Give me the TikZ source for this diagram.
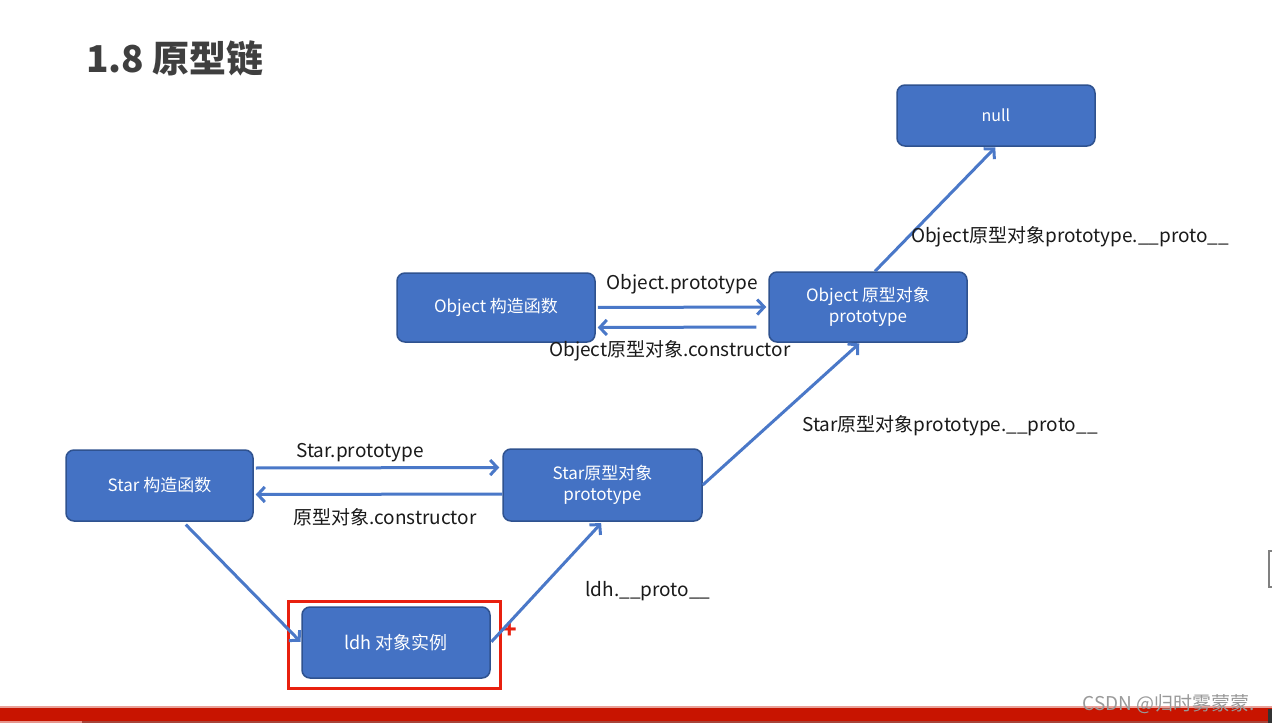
\documentclass[tikz,border=0pt]{standalone}
\usepackage{fontspec}
\setmainfont{Noto Sans CJK SC}
\usetikzlibrary{arrows.meta}
\definecolor{nodeblue}{HTML}{4472C4}
\definecolor{nodeedge}{HTML}{2F528F}
\definecolor{arrowblue}{HTML}{4A78C8}
\definecolor{titlegray}{HTML}{3F3F3F}
\definecolor{labelblack}{HTML}{1A1A1A}
\definecolor{hlred}{HTML}{E8200F}
\definecolor{barred}{HTML}{C81400}
\begin{document}
\begin{tikzpicture}[x=1pt,y=-1pt,
  box/.style={draw=nodeedge, line width=1.5pt, fill=nodeblue, rounded corners=8pt,
    text=white, font=\fontsize{17}{21}\selectfont, align=center, inner sep=0pt},
  link/.style={draw=arrowblue, line width=3pt, -{Straight Barb[length=7pt,width=15pt]}},
  lbl/.style={text=labelblack, font=\fontsize{19}{23}\selectfont, inner sep=0pt}]
\useasboundingbox (0,0) rectangle (1272,723);
\fill[white] (0,0) rectangle (1272,723);

% title
\node[anchor=west, text=titlegray, font=\fontsize{37}{42}\selectfont\bfseries, inner sep=0pt] (title) at (86,58) {1.8 原型链};

% nodes
\node[box, minimum width=198pt, minimum height=61pt, font=\fontsize{16}{19}\selectfont] (null) at (996,115.5) {null};
\node[box, minimum width=198pt, minimum height=69pt] (objc) at (496,307.5) {Object 构造函数};
\node[box, minimum width=198pt, minimum height=70pt] (objp) at (868,307) {Object 原型对象\\prototype};
\node[box, minimum width=187pt, minimum height=71pt] (starc) at (159.5,485.5) {Star 构造函数};
\node[box, minimum width=199pt, minimum height=72pt] (starp) at (602.5,485) {Star原型对象\\prototype};
\node[box, minimum width=188pt, minimum height=71pt, font=\fontsize{18}{21}\selectfont] (ldh) at (396,642.5) {ldh 对象实例};

% highlight
\draw[hlred, line width=3pt] (288,601) rectangle (500,688);
\node[text=hlred, font=\fontsize{24}{24}\selectfont\bfseries, inner sep=0pt] (plus) at (510,631) {+};

% connectors
\draw[link, shorten <=2pt, shorten >=2pt] (objc.east) -- (objp.west);
\draw[link, shorten <=12pt, shorten >=2pt] ([yshift=-20pt]objp.west) -- ([yshift=-20pt]objc.east);
\draw[link, shorten >=1pt] ([xshift=7pt]objp.north) -- (null.south);
\draw[link, shorten >=1pt] (starp.east) -- ([xshift=-8pt]objp.south);
\draw[link, shorten <=2pt, shorten >=3pt] ([yshift=17.5pt]starc.east) -- ([yshift=17.5pt]starp.west);
\draw[link, shorten >=2pt] ([yshift=-9pt]starp.west) -- ([yshift=-9pt]starc.east);
\draw[link, shorten <=4pt, shorten >=1pt] ([xshift=23.5pt]starc.south) -- (ldh.west);
\draw[link, shorten <=1pt, shorten >=2pt] (ldh.east) -- (starp.south);

% labels
\node[lbl] (l1) at (682,284) {Object.prototype};
\node[lbl] (l2) at (670,351) {Object原型对象.constructor};
\node[lbl] (l3) at (1070,237) {Object原型对象prototype.\_\_proto\_\_};
\node[lbl] (l4) at (950,426) {Star原型对象prototype.\_\_proto\_\_};
\node[lbl] (l5) at (360,453) {Star.prototype};
\node[lbl] (l6) at (385,517) {原型对象.constructor};
\node[lbl] (l7) at (648,591) {ldh.\_\_proto\_\_};

% right edge bracket
\draw[gray, line width=1.5pt] (1275,551) -- (1269,551) -- (1269,587) -- (1275,587);

% bottom bar
\fill[barred!40!white] (0,706) rectangle (1272,708);
\fill[barred] (0,708) rectangle (1272,721);
\fill[barred!45!white] (0,721) rectangle (82,723);
\fill[barred!55!gray] (82,721) rectangle (1272,723);
\fill[black!80] (1268,709) rectangle (1272,723);

% watermark
\node[anchor=east, text=black!40, font=\fontsize{19}{21}\selectfont, inner sep=0pt] (wm) at (1255,704) {CSDN @归时雾蒙蒙.};
\end{tikzpicture}
\end{document}
